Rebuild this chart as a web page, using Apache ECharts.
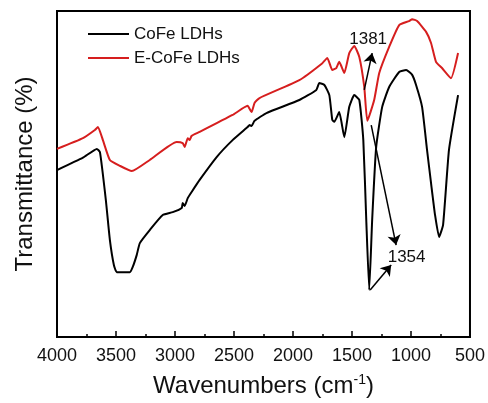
<!DOCTYPE html>
<html>
<head>
<meta charset="utf-8">
<script src="https://cdn.jsdelivr.net/npm/echarts@6/dist/echarts.min.js"></script>
<style>
  html, body { margin: 0; padding: 0; background: #fff; }
  #chart { width: 488px; height: 403px; }
</style>
</head>
<body>
<div id="chart"></div>
<script>
// FTIR spectra (wavenumber in cm-1, transmittance in arbitrary %)
const cofeWave = [4000, 3780, 3662, 3636, 3586, 3552, 3518, 3493, 3383, 3358, 3324, 3298, 3214, 3104,
  3019, 2943, 2935, 2918, 2892, 2859, 2791, 2647, 2512, 2385, 2368, 2351, 2326, 2225, 1946, 1802,
  1777, 1734, 1692, 1667, 1650, 1608, 1565, 1523, 1481, 1438, 1404, 1379, 1354, 1329, 1295, 1244,
  1185, 1100, 1041, 990, 957, 906, 864, 830, 796, 762, 728, 678, 601];
const cofeT = [51.2, 55.0, 57.7, 56.7, 42.0, 29.8, 22.1, 19.9, 19.9, 21.5, 25.2, 28.8, 32.8, 37.4,
  38.3, 39.6, 41.1, 40.2, 42.6, 44.5, 48.2, 55.2, 60.4, 64.4, 65.0, 64.7, 66.3, 68.7, 72.7, 75.8,
  77.9, 77.3, 74.2, 66.6, 66.0, 69.0, 61.3, 70.6, 74.2, 72.7, 60.4, 35.9, 14.4, 35.9, 58.3, 70.6,
  76.7, 81.3, 81.9, 80.4, 77.3, 70.6, 57.4, 47.2, 37.4, 30.7, 34.4, 57.4, 74.2];

const ecofeWave = [4000, 3780, 3679, 3653, 3611, 3552, 3467, 3366, 3214, 2986, 2935, 2918, 2892,
  2876, 2859, 2791, 2512, 2385, 2351, 2326, 2284, 1946, 1751, 1709, 1667, 1633, 1608, 1565, 1523,
  1481, 1438, 1396, 1370, 1312, 1269, 1185, 1100, 1016, 990, 948, 872, 830, 788, 737, 661, 601];
const ecofeT = [57.7, 61.0, 63.5, 64.4, 60.4, 54.3, 52.5, 50.9, 54.3, 59.8, 59.5, 58.3, 61.0,
  60.4, 61.7, 62.9, 68.1, 70.9, 69.0, 71.8, 73.3, 78.8, 84.0, 85.6, 81.9, 82.5, 84.4, 81.0, 87.1,
  89.3, 85.9, 76.7, 66.3, 72.7, 81.0, 89.0, 95.7, 96.9, 97.5, 96.9, 93.6, 90.2, 84.4, 82.5, 79.4, 87.1];

const seriesNames = ["CoFe LDHs", "E-CoFe LDHs"];
const xTicks = [500, 4000, 500]; // min, max, interval

// annotation text and arrows, in data units
const peakLabels = [
  { text: "1381", at: [1363, 91.4] },
  { text: "1354", at: [1037, 24.5] }
];
const arrows = [
  [[1396, 75.8], [1329, 87.1]],
  [[1337, 65.0], [1126, 28.2]],
  [[1346, 14.4], [1168, 22.1]]
];

const FONT = "'Liberation Sans', Arial, sans-serif";
const zip = (xs, ys) => xs.map((x, i) => [x, ys[i]]);

const chart = echarts.init(document.getElementById("chart"), null, { renderer: "canvas" });

chart.setOption({
  animation: false,
  backgroundColor: "#fff",
  textStyle: { fontFamily: FONT },
  grid: {
    left: 57, right: 17, top: 11, bottom: 66,
    show: true, borderColor: "#000", borderWidth: 2, backgroundColor: "transparent"
  },
  legend: {
    orient: "vertical",
    left: 83, top: 20,
    icon: "rect",
    itemWidth: 41, itemHeight: 2,
    itemGap: 6,
    textStyle: { fontSize: 17, color: "#111", fontFamily: FONT, lineHeight: 18 },
    data: seriesNames
  },
  xAxis: {
    type: "value",
    inverse: true,
    min: xTicks[0], max: xTicks[1], interval: xTicks[2],
    name: "Wavenumbers (cm{sup|-1})",
    nameLocation: "middle",
    nameGap: 36,
    nameTextStyle: {
      fontSize: 24, color: "#111", fontFamily: FONT,
      rich: { sup: { fontSize: 14, verticalAlign: "top", padding: [0, 0, 12, 0], color: "#111" } }
    },
    axisLine: { show: false },
    axisTick: { show: true, inside: true, length: 6, lineStyle: { color: "#000", width: 1.5 } },
    minorTick: { show: true, splitNumber: 2, length: 3, lineStyle: { color: "#000", width: 1.5 } },
    axisLabel: { fontSize: 18, color: "#111", margin: 10, fontFamily: FONT, formatter: v => String(v) },
    splitLine: { show: false }
  },
  yAxis: {
    type: "value",
    min: 0, max: 100,
    name: "Transmittance (%)",
    nameLocation: "middle",
    nameGap: 20,
    nameTextStyle: { fontSize: 24, color: "#111", fontFamily: FONT },
    axisLine: { show: false },
    axisTick: { show: false },
    axisLabel: { show: false },
    splitLine: { show: false }
  },
  series: [
    {
      name: seriesNames[0],
      type: "line",
      data: zip(cofeWave, cofeT),
      smooth: 0.15,
      showSymbol: false,
      color: "#000",
      lineStyle: { color: "#000", width: 2 },
      markLine: {
        silent: true,
        symbol: ["none", "arrow"],
        symbolSize: 10,
        label: { show: false },
        lineStyle: { color: "#000", width: 1.5, type: "solid" },
        itemStyle: { color: "#000" },
        data: arrows.map(([a, b]) => [{ coord: a }, { coord: b }])
      },
      markPoint: {
        silent: true,
        symbol: "circle",
        symbolSize: 0,
        label: { show: true, position: "inside", fontSize: 17, color: "#111", fontFamily: FONT,
          formatter: p => p.name },
        data: peakLabels.map(l => ({ name: l.text, coord: l.at }))
      }
    },
    {
      name: seriesNames[1],
      type: "line",
      data: zip(ecofeWave, ecofeT),
      smooth: 0.15,
      showSymbol: false,
      color: "#d61e1e",
      lineStyle: { color: "#d61e1e", width: 2 }
    }
  ]
});
</script>
</body>
</html>
